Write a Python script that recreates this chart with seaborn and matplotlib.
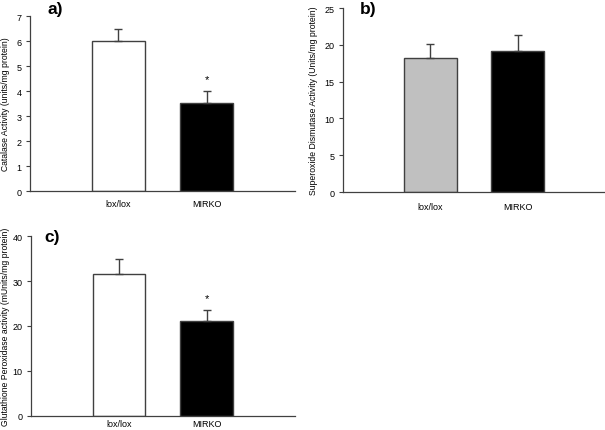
"""Antioxidant enzyme activity bar charts (lox/lox vs MIRKO)."""

import matplotlib
matplotlib.use("Agg")
import matplotlib.pyplot as plt
import pandas as pd
import seaborn as sns

# Data.
groups = ["lox/lox", "MIRKO"]
catalase = [6.02, 3.52]
catalase_err = [0.45, 0.48]
sod = [18.2, 19.1]
sod_err = [1.9, 2.2]
gpx = [31.5, 21.1]
gpx_err = [3.5, 2.4]

sns.set_theme(style="white")
plt.rcParams["font.family"] = ["Liberation Sans", "DejaVu Sans"]
plt.rcParams["text.color"] = "black"
plt.rcParams["axes.labelcolor"] = "black"
plt.rcParams["xtick.color"] = "black"
plt.rcParams["ytick.color"] = "black"

fig = plt.figure(figsize=(6.05, 4.31), dpi=100)
ax_a = fig.add_axes([0.0496, 0.5545, 0.438, 0.406])
ax_b = fig.add_axes([0.567, 0.552, 0.433, 0.427])
ax_c = fig.add_axes([0.0512, 0.0325, 0.436, 0.4176])

edge = "#404040"


def draw_panel(ax, values, errs, colors, ylabel, ymax, step, letter, stars,
               letter_pos, label_x, xpad):
    df = pd.DataFrame({"group": groups, "value": values})
    sns.barplot(
        data=df,
        x="group",
        y="value",
        hue="group",
        palette=colors,
        legend=False,
        width=0.6,
        edgecolor=edge,
        linewidth=1.0,
        errorbar=None,
        ax=ax,
    )
    ax.errorbar(
        range(len(groups)),
        values,
        yerr=[[0] * len(errs), errs],
        fmt="none",
        ecolor=edge,
        elinewidth=1.0,
        capsize=3,
        capthick=1.0,
    )
    for i, flag in enumerate(stars):
        if flag:
            ax.text(i, values[i] + errs[i] + ymax * 0.04, "*", ha="center",
                    va="bottom", fontsize=8, color="black")
    ax.set_xlim(-1, 2)
    ax.set_ylim(0, ymax)
    ax.set_yticks(list(range(0, int(ymax) + 1, step)))
    ax.set_xlabel("")
    ax.set_ylabel(ylabel, fontsize=6.2)
    ax.yaxis.set_label_coords(label_x, 0.5)
    ax.tick_params(axis="y", labelsize=6.5, length=3, width=0.8, color=edge, pad=3, left=True)
    ax.tick_params(axis="x", labelsize=6.5, length=0, pad=xpad)
    for side in ["top", "right"]:
        ax.spines[side].set_visible(False)
    for side in ["left", "bottom"]:
        ax.spines[side].set_color(edge)
        ax.spines[side].set_linewidth(0.9)
    fig.text(letter_pos[0], letter_pos[1], letter, fontsize=12.5, fontweight="bold",
             ha="left", va="center")


draw_panel(ax_a, catalase, catalase_err, ["white", "black"],
           "Catalase Activity (units/mg protein)", 7, 1, "a)", [False, True],
           (0.078, 0.978), -0.075, 6)
draw_panel(ax_b, sod, sod_err, ["#c0c0c0", "black"],
           "Superoxide Dismutase Activity (Units/mg protein)", 25, 5, "b)", [False, False],
           (0.594, 0.978), -0.095, 7)
draw_panel(ax_c, gpx, gpx_err, ["white", "black"],
           "Glutathione Peroxidase activity (mUnits/mg protein)", 40, 10, "c)", [False, True],
           (0.074, 0.45), -0.08, 2)

fig.savefig("out.png", dpi=100, facecolor="white")
